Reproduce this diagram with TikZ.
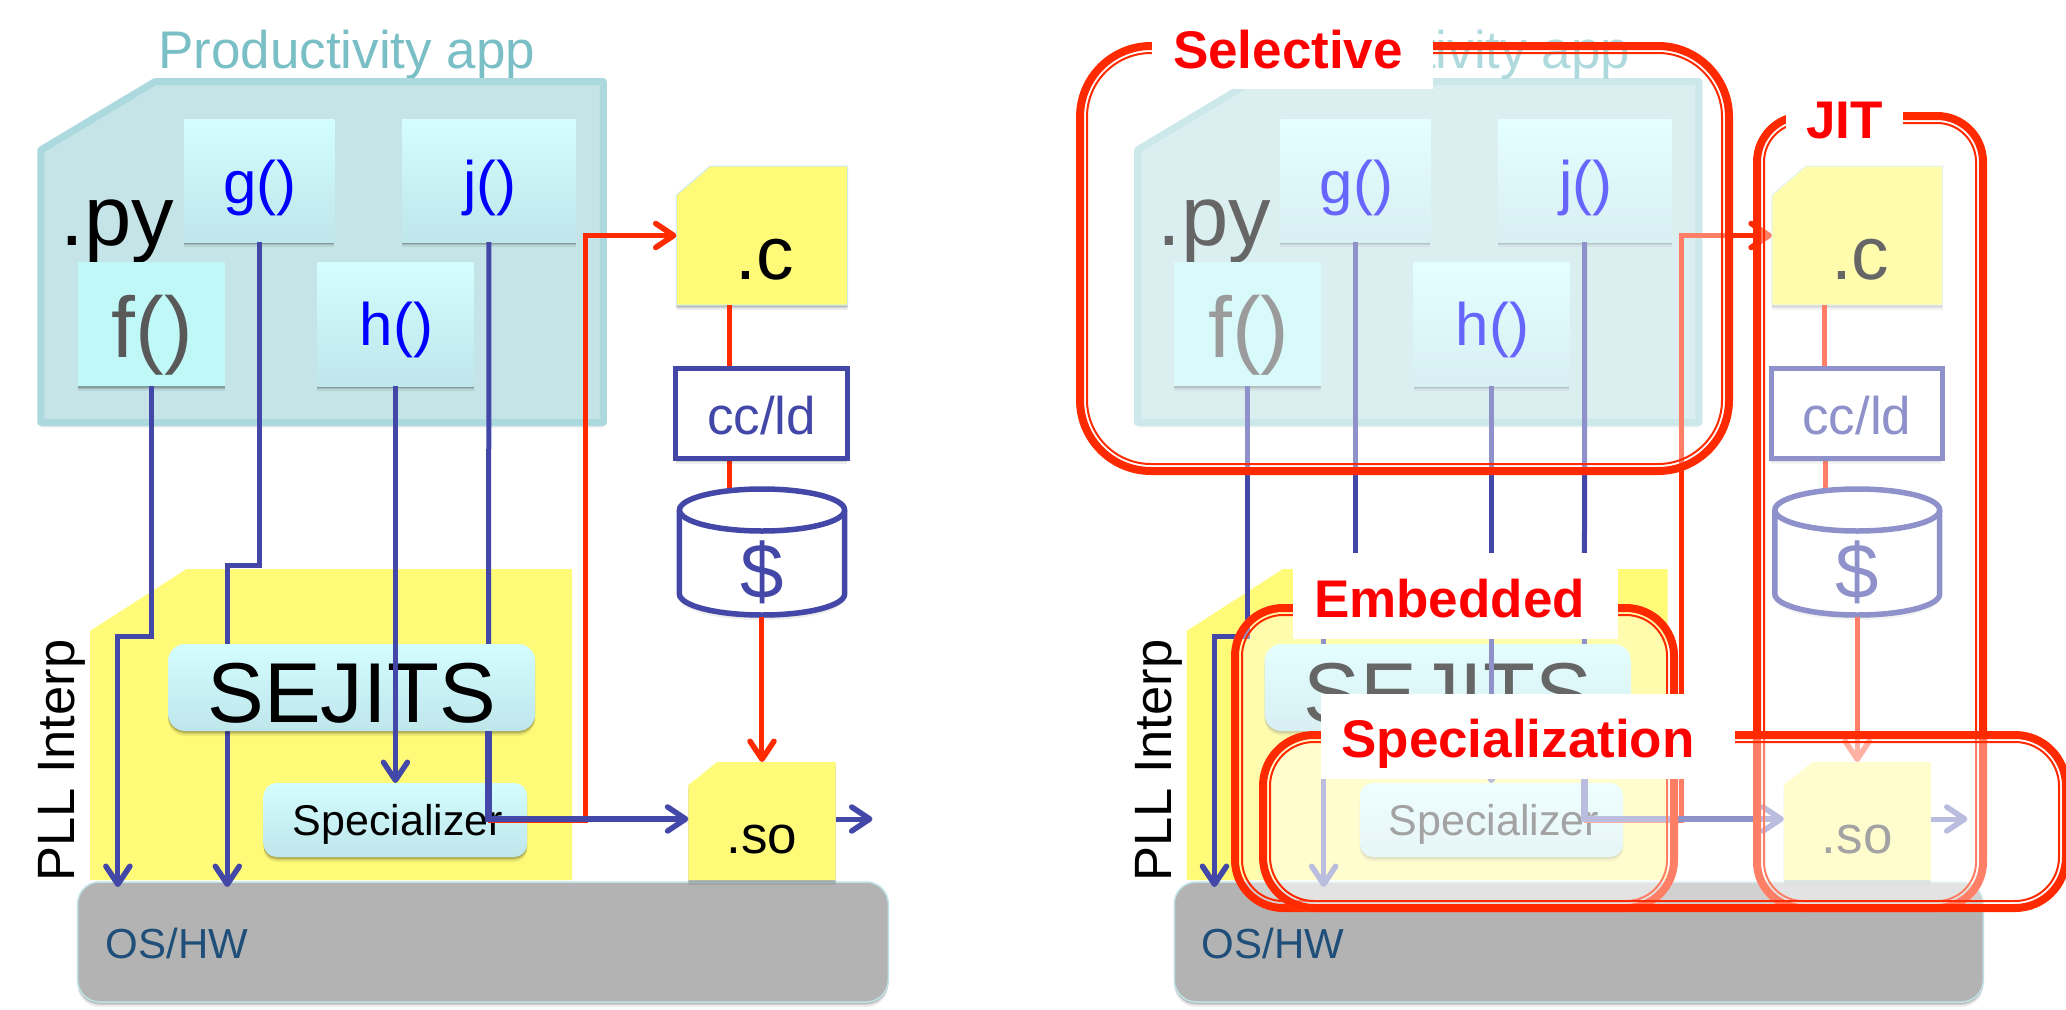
\documentclass[tikz,border=0pt]{standalone}
\usepackage{fontspec}
\setmainfont{Liberation Sans}
\usetikzlibrary{arrows.meta,shadows}
\definecolor{navyc}{HTML}{4348A8}
\definecolor{redc}{HTML}{FF2A00}
\definecolor{yelc}{HTML}{FFFB78}
\definecolor{pyfill}{HTML}{C4E4E7}
\definecolor{pyedge}{HTML}{ABD9DD}
\definecolor{titlec}{HTML}{7BBFC6}
\definecolor{titlepale}{HTML}{AEDADD}
\definecolor{boxtop}{HTML}{D3FDFF}
\definecolor{boxbot}{HTML}{BEE6EB}
\definecolor{fboxc}{HTML}{C0F8F8}
\definecolor{osc}{HTML}{B3B3B3}
\definecolor{osedge}{HTML}{BFE3E6}
\definecolor{cedge}{HTML}{CDEBF0}
\definecolor{ostext}{HTML}{1F4E79}
\definecolor{fgrey}{HTML}{595959}
\newcommand\fs[1]{\fontsize{#1}{#1}\selectfont}
\newcommand\bxsc{1}
\tikzset{
  softshadow/.style={
    drop shadow={shadow xshift=0pt,shadow yshift=-1.5pt,opacity=.16,fill=black},
    drop shadow={shadow xshift=0pt,shadow yshift=-3pt,opacity=.12,fill=black},
    drop shadow={shadow xshift=0pt,shadow yshift=-5pt,opacity=.07,fill=black}},
  navyline/.style={draw=navyc,line width=5pt},
  redline/.style={draw=redc,line width=5pt},
  barb/.style={-{Straight Barb[length=18pt,width=24pt,line width=5.5pt,round]}},
  gradbox/.style={top color=boxtop,bottom color=boxbot,softshadow},
  yfile/.style={fill=yelc},
  callout/.style={text=red,font={\fs{53}\bfseries}},
}
% name, x1,y1,x2,y2, baseline, options, text
\newcommand\bx[8]{%
  \pgfmathsetmacro\bxw{(#4-#2)*\bxsc}\pgfmathsetmacro\bxh{#5-#3}%
  \pgfmathsetmacro\bxa{#6-#3}\pgfmathsetmacro\bxd{#5-#6}%
  \pgfmathsetmacro\bxx{(#2+#4)/2}\pgfmathsetmacro\bxy{(#3+#5)/2}%
  \node[inner sep=0pt,outer sep=0pt,minimum width=\bxw pt,minimum height=\bxh pt,
        text height=\bxa pt,text depth=\bxd pt,#7] (#1) at (\bxx,\bxy) {#8};}
% file outline: x1,y1,x2,y2,cutx,cuty,options
\newcommand\filepoly[7]{\path[#7] (#1,#6) -- (#5,#2) -- (#3,#2) -- (#3,#4) -- (#1,#4) -- cycle;}
\newcommand\panel[1]{%
  % python file
  \path[fill=pyfill,draw=pyedge,line width=7pt,line join=round,softshadow]
    (41,150) -- (156,81.5) -- (606.5,81.5) -- (606.5,422.5) -- (41,422.5) -- cycle;
  \node[inner sep=0pt,anchor=base west,font=\fs{85},text=black] (#1py) at (61,245) {.py};
  \bx{#1g}{185}{119}{336}{242}{203}{gradbox,text=blue,font=\fs{60}}{\hspace*{2pt}g()}
  \bx{#1j}{404}{119}{579}{242}{203}{gradbox,text=blue,font=\fs{60}}{\hspace*{2pt}j()}
  \bx{#1f}{78}{262}{226}{386}{357}{fill=fboxc,softshadow,text=fgrey,font=\fs{86}}{\hspace*{2pt}f()}
  \bx{#1h}{319}{262}{476}{386}{345.5}{gradbox,text=blue,font=\fs{60}}{\hspace*{2pt}h()}
  % interpreter file
  \filepoly{90.5}{569}{575}{880}{187.5}{631}{yfile}
  \node[inner sep=0pt,anchor=base west,rotate=90,font=\fs{52.5},text=black] (#1pll) at (75,882) {PLL Interp};
  % OS box
  \bx{#1os}{78}{882}{893}{1002}{958}{fill=osc,draw=osedge,line width=1.5pt,rounded corners=22pt,softshadow,text=ostext,font=\fs{42}}{\hspace*{-612pt}OS/HW}
  % coordinates for bends
  \coordinate (#1fb) at (118.5,636);
  \coordinate (#1ft) at (118.5,887);
  \coordinate (#1gb) at (228.5,565);
  \coordinate (#1gt) at (228.5,887);
  \coordinate (#1jb) at (491,819);
  \coordinate (#1rb) at (589,820.5);
  \coordinate (#1ra) at (491,820.5);
  \coordinate (#1rx) at (733.5,300);
  % compiler chain files
  \filepoly{680}{166}{852}{305}{714}{195}{yfile,draw=cedge,line width=1pt,softshadow}
  \bx{#1c}{680}{166}{852}{305}{279}{text=black,font=\fs{75}}{\hspace*{6pt}.c}
  \draw[redline] (#1c.south -| #1rx) -- +(0,70);
  \draw[redline] (733.5,455) -- (733.5,495);
  \bx{#1cc}{679.5}{368.5}{851.5}{458.5}{434}{fill=white,draw=navyc,line width=5pt,softshadow,text=navyc,font=\fs{53}}{cc/ld}
  % cache cylinder
  \path[fill=white,draw=navyc,line width=5.5pt,softshadow]
    (683,510) arc[start angle=180,end angle=360,x radius=83,y radius=21] -- (849,594)
    arc[start angle=0,end angle=180,x radius=83,y radius=21] -- cycle;
  \draw[navyc,line width=5.5pt] (683,510) arc[start angle=180,end angle=0,x radius=83,y radius=21];
  \bx{#1cy}{680}{487}{852}{617}{598}{text=navyc,font=\fs{78}}{\$}
  % so file
  \filepoly{692}{762}{840}{880}{721}{785}{yfile,softshadow}
  \bx{#1so}{692}{762}{840}{880}{853}{text=black,font=\fs{53}}{.so}
  \draw[redline,barb] (#1cy.south) -- (#1so.north);
  % navy flows
  \draw[navyline,barb] (#1f.south) |- (#1fb) -- (#1ft);
  \draw[navyline,barb] (#1g.south) |- (#1gb) -- (#1gt);
  \draw[navyline] (#1j.south) -- (#1jb);
  \bx{#1se}{169}{644}{538}{731}{722}{gradbox,rounded corners=17pt,text=black,font=\fs{85}}{SEJITS}
  \bx{#1sp}{265}{783}{530}{857}{835}{gradbox,rounded corners=13pt,text=black,font=\fs{43}}{\hspace*{5pt}Specializer}
  \draw[navyline,barb] (#1h.south) -- (#1h.south |- #1sp.north);
  \draw[redline,barb] (#1ra) -- (#1rb) |- (#1c.west);
  \draw[navyline,line width=6.5pt,barb] (#1se.south -| #1jb) -- (#1jb) -- (#1so.west |- #1jb);
  \draw[navyline,barb] (#1so.east |- #1jb) -- (877,819);
}
% highlight: name,x1,y1,x2,y2,r
\newcommand\hlfill[6]{%
  \bx{#1}{#2}{#3}{#4}{#5}{#5}{fill=white,fill opacity=.4,rounded corners=#6pt}{}}
\newcommand\hlstroke[6]{%
  \pgfmathsetmacro\hla{#2+4}\pgfmathsetmacro\hlb{#3+4}\pgfmathsetmacro\hlc{#4-4}\pgfmathsetmacro\hld{#5-4}%
  \pgfmathsetmacro\hle{#2+11}\pgfmathsetmacro\hlf{#3+11}\pgfmathsetmacro\hlg{#4-11}\pgfmathsetmacro\hlh{#5-11}%
  \pgfmathsetmacro\hli{#6-4}\pgfmathsetmacro\hlj{#6-11}%
  \bx{#1o}{\hla}{\hlb}{\hlc}{\hld}{\hld}{draw=redc,line width=8pt,rounded corners=\hli pt}{}
  \pgfmathsetmacro\hle{#2+11}\pgfmathsetmacro\hlf{#3+11}\pgfmathsetmacro\hlg{#4-11}\pgfmathsetmacro\hlh{#5-11}%
  \bx{#1i}{\hle}{\hlf}{\hlg}{\hlh}{\hlh}{draw=redc,line width=2pt,rounded corners=\hlj pt}{}}
\begin{document}
\begin{tikzpicture}[x=1pt,y=-1pt]
\useasboundingbox (0,0) rectangle (2066,1009);
% LEFT PANEL
\node[inner sep=0pt,anchor=base west,font=\fs{53},text=titlec] (Ltitle) at (158,68) {Productivity app};
\begin{scope}[xscale=.9948]
\renewcommand\bxsc{.9948}
\panel{L}
\end{scope}
% RIGHT PANEL
\begin{scope}[xshift=1096.8pt,xscale=.9928]
\renewcommand\bxsc{.9928}
\panel{R}
\end{scope}
% Selective
\hlfill{selF}{1076}{42}{1733}{475}{75}
\node[inner sep=0pt,anchor=base west,font=\fs{53},text=titlepale] (Rtitle) at (1253,68) {Productivity app};
\hlstroke{sel}{1076}{42}{1733}{475}{75}
\bx{selL}{1152}{15}{1433}{89}{68}{fill=white,callout}{\hspace*{-9pt}Selective}
% JIT
\hlfill{jitF}{1753}{112}{1987}{912}{50}
\hlstroke{jit}{1753}{112}{1987}{912}{50}
\bx{jitL}{1786}{85}{1903}{150}{138}{fill=white,callout}{JIT}
% Embedded
\hlfill{embF}{1231}{604}{1678}{912}{52}
\hlstroke{emb}{1231}{604}{1678}{912}{52}
\bx{embL}{1293}{553}{1618}{639}{617}{fill=white,callout}{\hspace*{-12pt}Embedded}
% Specialization
\hlfill{speF}{1259}{731}{2070}{912}{55}
\hlstroke{spe}{1259}{731}{2070}{912}{55}
\bx{speL}{1321}{694}{1735}{779}{757}{fill=white,callout}{\hspace*{-20pt}Specialization}
\end{tikzpicture}
\end{document}
